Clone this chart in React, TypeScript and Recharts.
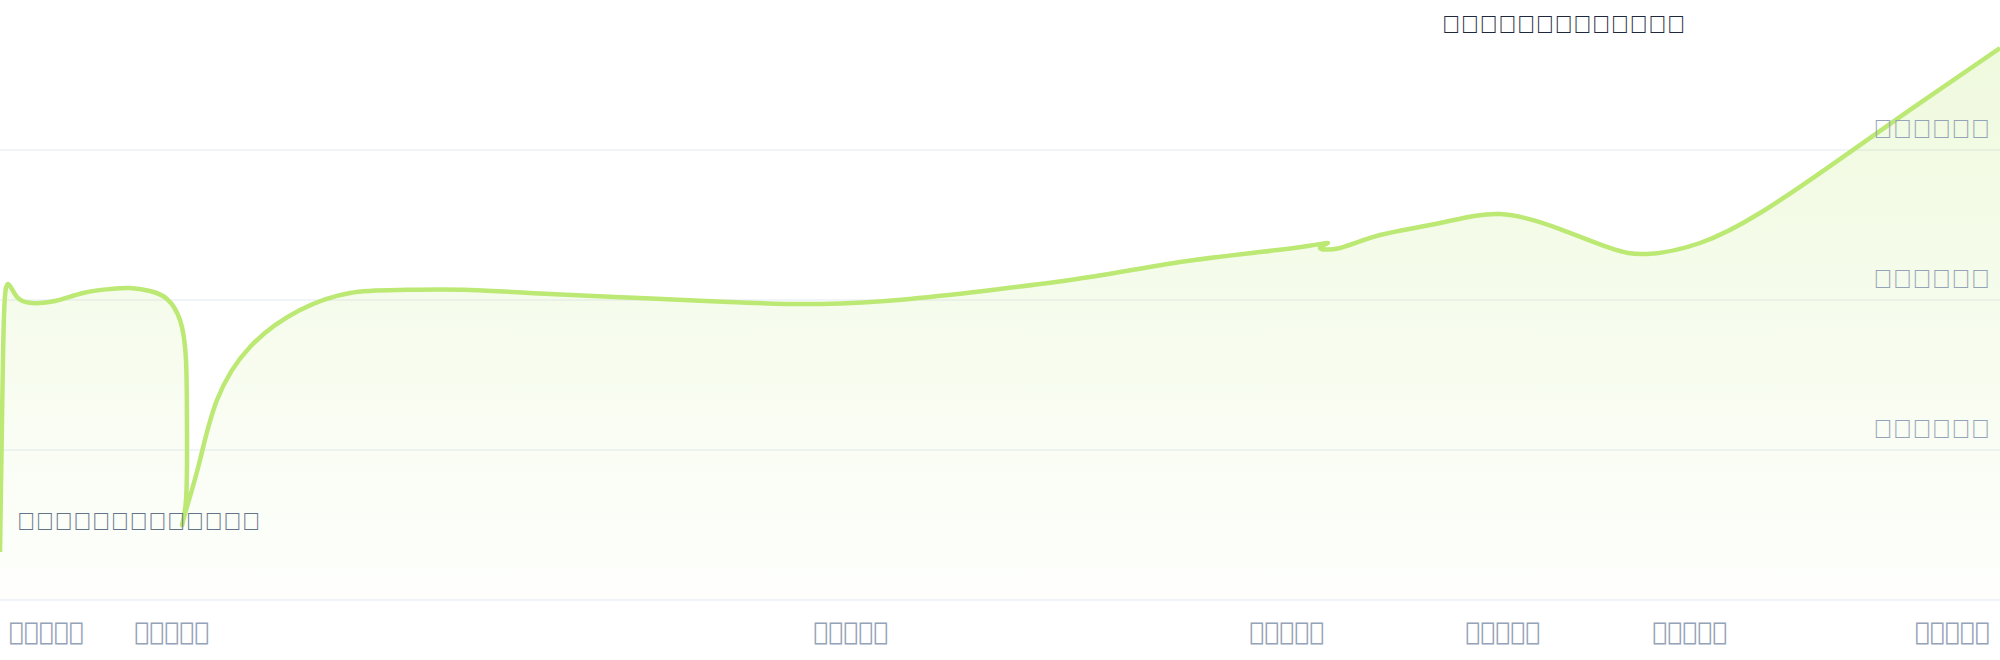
import React from 'react';
import { ComposedChart, Area, XAxis, YAxis, CartesianGrid } from 'recharts';

// day of period (0..100), in drawing order (the trace doubles back twice)
const dayPos = [
    0, 0.1, 0.2, 0.4, 0.85, 1.6, 2.75, 4.15, 5.5, 6.5, 7.5, 8.35, 9, 9.3, 9.35, 9.3, 9.1, 9.45, 10, 10.85,
    12.5, 15, 17.5, 20, 23.5, 27.5, 32, 36.5, 41, 45.5, 50, 54.5, 59, 63, 65.4, 66.4, 66, 67,
    69, 72, 75, 78, 80.5, 82.35, 85, 88, 91.5, 95.5, 100,
];
// value in thousands
const sales = [
    32, 120, 190, 210.7, 202, 198, 199.3, 204.7, 207.3, 208, 206, 200.7, 186.7, 160, 113.3, 66.7, 50, 66.7, 93.3, 133.3,
    168.7, 193.3, 204.7, 206.7, 206.7, 204, 201.3, 198.7, 197.3, 200.7, 207.3, 215.3, 225.3, 232, 236, 238, 234.7, 234.7,
    243.3, 251.3, 257.3, 247.3, 234.7, 230.7, 238, 258, 289.3, 326.7, 368,
];

const xTicks = [0, 8.6, 42.55, 64.35, 75.15, 84.5, 100];
const xLabels = [
    '\u{40001}\u{40002}\u{40003}\u{40004}\u{40005}',
    '\u{40001}\u{40002}\u{40003}\u{40004}\u{40006}',
    '\u{40001}\u{40002}\u{40003}\u{40004}\u{40007}',
    '\u{40001}\u{40002}\u{40003}\u{40004}\u{40008}',
    '\u{40001}\u{40002}\u{40003}\u{40004}\u{40009}',
    '\u{40001}\u{40002}\u{40003}\u{40004}\u{4000A}',
    '\u{40001}\u{40002}\u{40003}\u{40004}\u{4000B}',
];

const yTicks = [100, 200, 300];
const yLabels = [
    '\u{40011}\u{40010}\u{40010}\u{40010}\u{40010}\u{40010}',
    '\u{40012}\u{40010}\u{40010}\u{40010}\u{40010}\u{40010}',
    '\u{40013}\u{40010}\u{40010}\u{40010}\u{40010}\u{40010}',
];

const title = '\u{40020}\u{40021}\u{40022}\u{40023}\u{40024}\u{40025}\u{40026}\u{40027}\u{40028}\u{40029}\u{4002A}\u{4002B}\u{4002C}';
const note = '\u{40030}\u{40031}\u{40032}\u{40033}\u{40034}\u{40035}\u{40036}\u{40037}\u{40038}\u{40039}\u{4003A}\u{4003B}\u{4003C}';

const data = dayPos.map((d, i) => ({ day: d, sales: sales[i] }));

const COLORS = {
    line: '#bce874',
    grid: '#e2e8f0',
    tick: '#94a3b8',
    title: '#1e293b',
    note: '#64748b',
};

const XTick = ({ x, y, payload, index }: any) => {
    const i = xTicks.indexOf(payload.value);
    const last = index === xTicks.length - 1;
    const anchor = index === 0 ? 'start' : last ? 'end' : 'middle';
    const dx = index === 0 ? 9 : last ? -10 : 0;
    return (
        <text x={x + dx} y={y + 32} textAnchor={anchor} fill={COLORS.tick} fontSize={25} fontFamily="'DejaVu Sans'">
            {xLabels[i]}
        </text>
    );
};

const YTick = ({ y, payload }: any) => {
    const i = yTicks.indexOf(payload.value);
    return (
        <text x={1990} y={y - 12} textAnchor="end" fill={COLORS.tick} fontSize={26} fontFamily="'Liberation Sans'">
            {yLabels[i]}
        </text>
    );
};

export default function App() {
    return (
        <div style={{ position: 'relative', width: 2000, height: 660, background: '#fff' }}>
            <style>{'body{margin:0}'}</style>
            <ComposedChart width={2000} height={660} data={data} margin={{ top: 0, right: 0, bottom: 0, left: 0 }}>
                <defs>
                    <linearGradient id="salesFill" x1="0" y1="0" x2="0" y2="1">
                        <stop offset="0%" stopColor={COLORS.line} stopOpacity={0.4} />
                        <stop offset="100%" stopColor={COLORS.line} stopOpacity={0.03} />
                    </linearGradient>
                </defs>
                <CartesianGrid vertical={false} stroke={COLORS.grid} horizontalValues={yTicks} />
                <YAxis
                    orientation="right"
                    mirror
                    width={60}
                    zIndex={50}
                    domain={[0, 400]}
                    ticks={yTicks}
                    axisLine={false}
                    tickLine={false}
                    tick={<YTick />}
                />
                <XAxis
                    dataKey="day"
                    type="number"
                    domain={[0, 100]}
                    ticks={xTicks}
                    height={60}
                    axisLine={{ stroke: COLORS.grid }}
                    tickLine={false}
                    tick={<XTick />}
                    interval={0}
                />
                <Area
                    type="natural"
                    dataKey="sales"
                    stroke={COLORS.line}
                    strokeWidth={4.5}
                    fill="url(#salesFill)"
                    isAnimationActive={false}
                    dot={false}
                    activeDot={false}
                />
            </ComposedChart>
            <svg width={2000} height={660} style={{ position: 'absolute', left: 0, top: 0, pointerEvents: 'none' }}>
                <text x={1442} y={33} fill={COLORS.title} fontSize={25} fontFamily="'Liberation Sans'">
                    {title}
                </text>
                <text x={17} y={530} fill={COLORS.note} fontSize={25} fontFamily="'Liberation Sans'">
                    {note}
                </text>
            </svg>
        </div>
    );
}
